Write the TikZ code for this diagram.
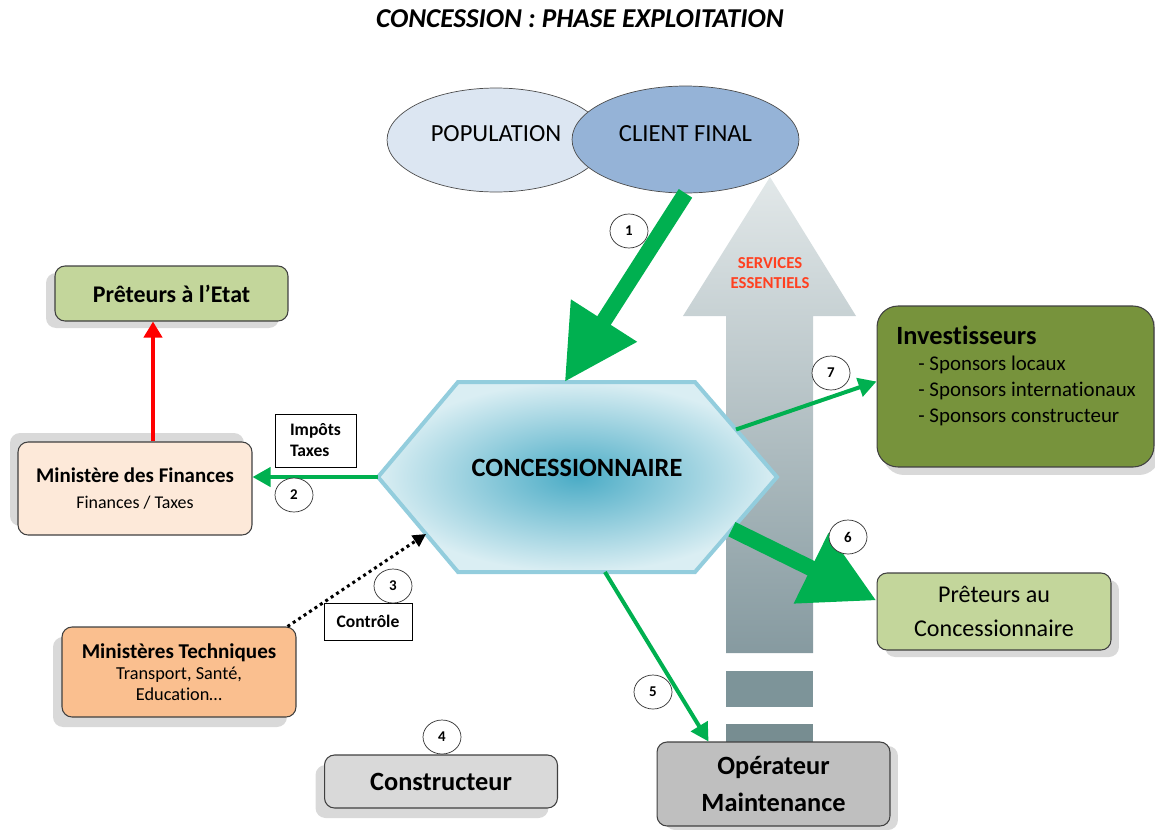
\documentclass[tikz,border=0pt]{standalone}
\usepackage{fontspec}
\setmainfont{Carlito}[Ligatures=NoCommon]
\usetikzlibrary{arrows.meta,shapes.geometric,shadows,calc,positioning}

\definecolor{vert}{HTML}{00B050}
\definecolor{popfond}{HTML}{DCE6F2}
\definecolor{clientfond}{HTML}{95B3D7}
\definecolor{hexbord}{HTML}{93CDDD}
\definecolor{hexcentre}{HTML}{4BACC6}
\definecolor{hexclair}{HTML}{DAEEF3}
\definecolor{vertclair}{HTML}{C3D69B}
\definecolor{peche}{HTML}{FDE9D9}
\definecolor{saumon}{HTML}{FABF8F}
\definecolor{grisclair}{HTML}{D9D9D9}
\definecolor{grismoyen}{HTML}{BFBFBF}
\definecolor{vertolive}{HTML}{77933C}
\definecolor{rougeserv}{HTML}{FF4020}
\definecolor{flechehaut}{HTML}{E2E8E9}
\definecolor{flechebas}{HTML}{869AA0}
\definecolor{bloc}{HTML}{7D9499}

\newcommand{\taille}[1]{\fontsize{#1}{1.2\dimexpr#1pt\relax}\selectfont}

\tikzset{
  boite/.style={draw=black!75, line width=0.6pt, rounded corners=0.2cm, align=center, inner sep=2pt},
  ombre/.style 2 args={drop shadow={fill=black!15, opacity=1, shadow xshift=#1, shadow yshift=#2}},
  pastille/.style={draw=black!80, ellipse, fill=white, minimum width=0.76cm, minimum height=0.68cm, inner sep=0pt, font=\bfseries\taille{8.5}},
  etiquette/.style={draw, fill=white, align=left, font=\bfseries\taille{10}},
  fleche/.style={vert, line width=0.08cm, -{Triangle[length=0.36cm, width=0.38cm]}},
  grosse/.style={vert, line width=0.32cm, -{Triangle[length=1.46cm, width=1.48cm]}},
}

\begin{document}
\begin{tikzpicture}[x=0.02cm, y=-0.02cm]
  \useasboundingbox (0,0) rectangle (1155,829);

  \node[font=\bfseries\itshape\taille{15.5}] (titre) at (580,19) {CONCESSION : PHASE EXPLOITATION};

  % fleche des services essentiels
  \shade[top color=flechehaut, bottom color=flechebas] (726,653) -- (726,316) -- (683,316) -- (770,177) -- (856,316) -- (813,316) -- (813,653) -- cycle;
  \fill[bloc] (726,671) rectangle (813,707);
  \fill[bloc!95!black] (726,724) rectangle (813,742);
  \node[text=rougeserv, font=\bfseries\taille{9.5}, align=center] (serv) at (770,273) {SERVICES\\ESSENTIELS};

  % hexagone
  \coordinate (ho) at (378,477);
  \coordinate (hno) at (458,382);
  \coordinate (hne) at (695,382);
  \coordinate (he) at (777,477);
  \coordinate (hse) at (695,572);
  \coordinate (hso) at (458,572);
  \shade[inner color=hexcentre, outer color=hexclair, draw=hexbord, line width=0.08cm] (ho) -- (hno) -- (hne) -- (he) -- (hse) -- (hso) -- cycle;
  \node[font=\bfseries\taille{15}] (conc) at (577,468) {CONCESSIONNAIRE};
  \coordinate (h1) at ($(hno)!0.45!(hne)$);
  \coordinate (h3) at ($(ho)!0.6!(hso)$);
  \coordinate (h5) at ($(hso)!0.62!(hse)$);
  \coordinate (h6) at ($(he)!0.55!(hse)$);
  \coordinate (h7) at ($(hne)!0.5!(he)$);

  \node[ellipse, draw=black!70, fill=popfond, minimum width=4.36cm, minimum height=2.08cm, font=\taille{14}] (pop) at (496,140) {\raisebox{0.24cm}{POPULATION}};
  \node[ellipse, draw=black!70, fill=clientfond, minimum width=4.54cm, minimum height=2.14cm, font=\taille{14}] (client) at (685.5,139.5) {\raisebox{0.24cm}{CLIENT FINAL}};

  \node[boite, fill=vertclair, ombre={-0.18cm}{-0.14cm}, minimum width=4.66cm, minimum height=1.1cm, font=\bfseries\taille{13.6}] (etat) at (171.5,293.5) {Prêteurs à l’Etat};
  \node[boite, fill=peche, ombre={-0.16cm}{0.18cm}, minimum width=4.68cm, minimum height=1.86cm] (fin) at (135,488.5) {{\bfseries\taille{11.9}Ministère des Finances}\\[2.5pt]{\taille{10.2}Finances / Taxes}};
  \node[boite, fill=saumon, ombre={-0.18cm}{-0.2cm}, minimum width=4.68cm, minimum height=1.8cm] (tech) at (179,672) {{\bfseries\taille{12}Ministères Techniques}\\{\taille{10.4}Transport, Santé,}\\{\taille{10.4}Education…}};
  \node[boite, fill=grisclair, ombre={-0.18cm}{-0.2cm}, minimum width=4.66cm, minimum height=1.06cm, font=\bfseries\taille{15}] (cons) at (441,781.5) {Constructeur};
  \node[boite, fill=grismoyen, ombre={0.16cm}{-0.08cm}, minimum width=4.66cm, minimum height=1.68cm, font=\bfseries\taille{15}] (oper) at (773.5,784) {Opérateur\\[3.4pt]Maintenance};
  \node[boite, fill=vertclair, ombre={0.16cm}{-0.14cm}, minimum width=4.68cm, minimum height=1.54cm, font=\taille{13.7}] (pretc) at (994,611.5) {Prêteurs au\\[2.8pt]Concessionnaire};
  \node[boite, fill=vertolive, rounded corners=0.42cm, ombre={0.12cm}{-0.16cm}, minimum width=5.54cm, minimum height=3.22cm] (inv) at (1015.5,386.5) {};
  \node[anchor=north west, align=left, inner sep=0pt, font=\taille{11.9}] (invtxt) at (896,326) {{\bfseries\taille{15}Investisseurs}\\[0.4pt]\hspace*{0.44cm}- Sponsors locaux\\[0.4pt]\hspace*{0.44cm}- Sponsors internationaux\\[0.4pt]\hspace*{0.44cm}- Sponsors constructeur};

  \node[etiquette, minimum width=1.62cm, minimum height=1.06cm] (impots) at (315.5,440.5) {Impôts\\Taxes};
  \node[etiquette, minimum width=1.76cm, minimum height=0.74cm] (ctrl) at (368,621.5) {Contrôle};

  % flux
  \draw[grosse] (client.south) -- (h1);
  \draw[fleche] (ho) -- (ho -| fin.east);
  \draw[red, line width=0.08cm, -{Triangle[length=0.32cm, width=0.36cm]}] ([xshift=0.36cm]fin.north) -- ([xshift=0.36cm]fin.north |- etat.south);
  \draw[black, line width=0.06cm, dotted, -{Triangle[length=0.26cm, width=0.26cm]}] ([xshift=-0.18cm]tech.north east) -- (h3);
  \draw[fleche] (h5) -- ([xshift=-1.3cm]oper.north);
  \draw[grosse] (h6) -- ([yshift=0.22cm]pretc.west);
  \draw[fleche] (h7) -- ([yshift=0.1cm]inv.west);

  \node[pastille] (p1) at (629,231) {1};
  \node[pastille] (p2) at (294,495) {2};
  \node[pastille] (p3) at (393,586) {3};
  \node[pastille] (p4) at (442,737) {4};
  \node[pastille] (p5) at (653,692) {5};
  \node[pastille] (p6) at (848,537) {6};
  \node[pastille] (p7) at (831,373) {7};
\end{tikzpicture}
\end{document}
